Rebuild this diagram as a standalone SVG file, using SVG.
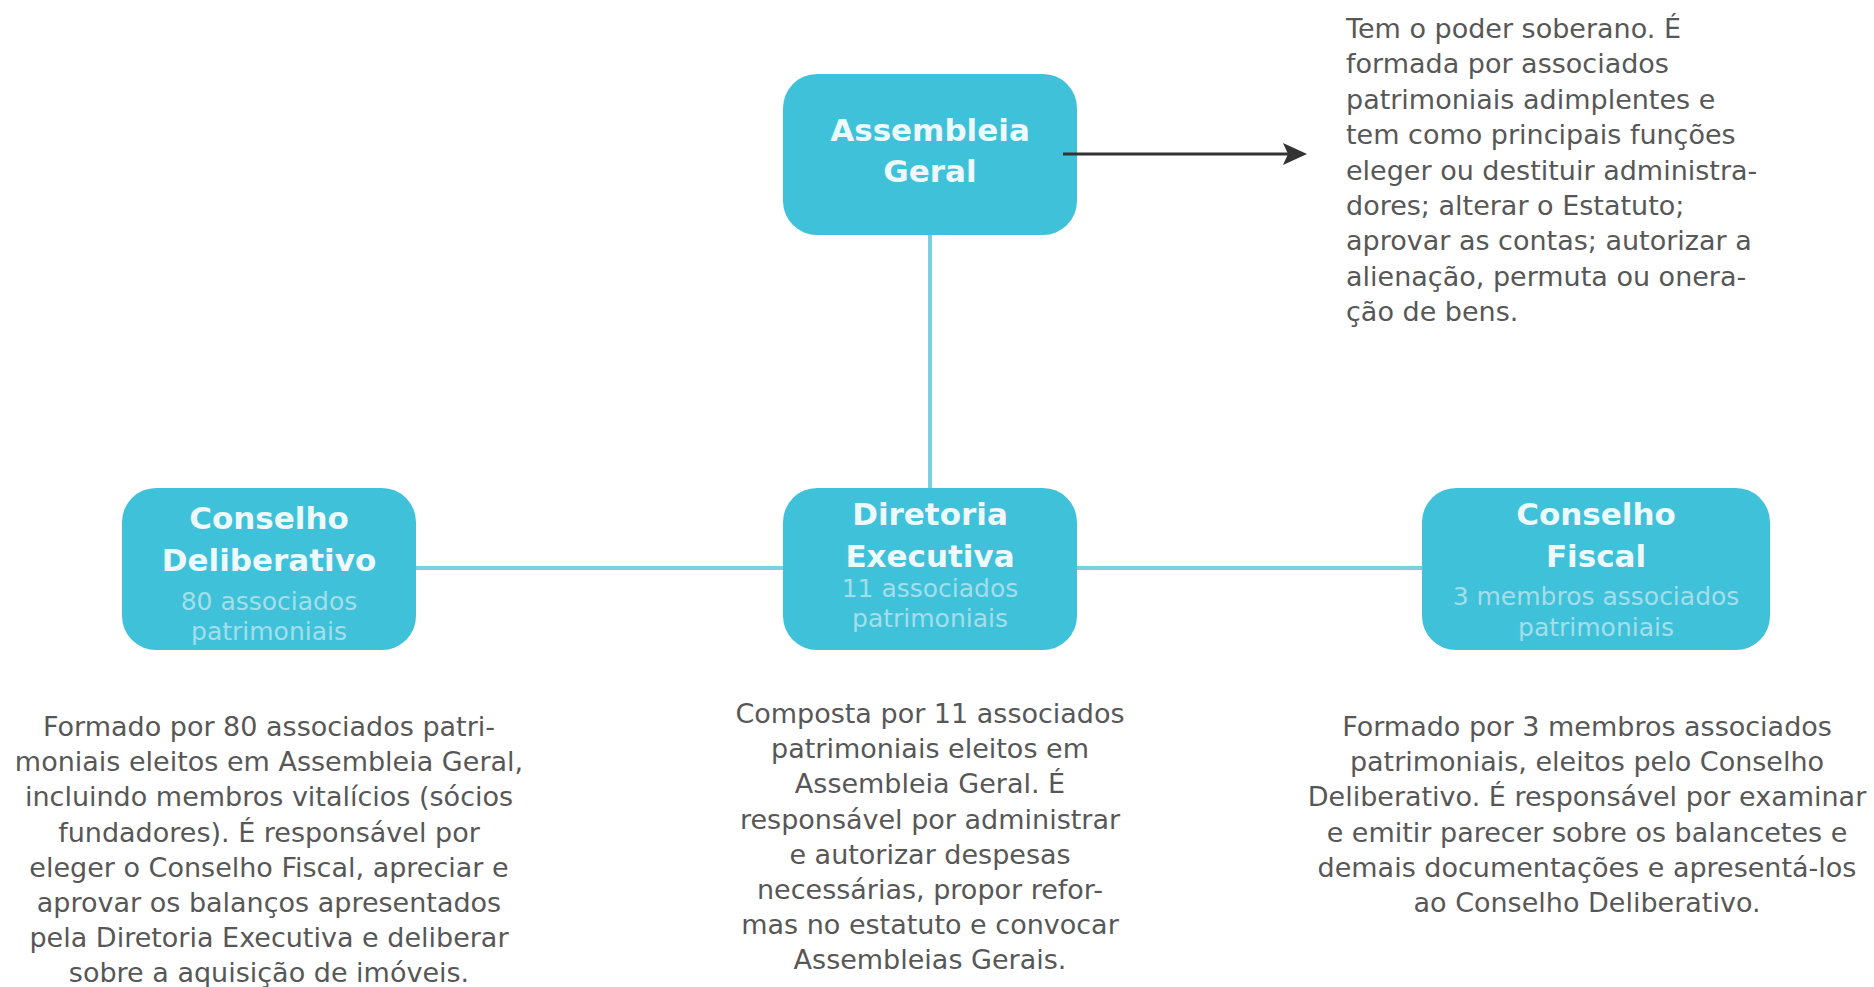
<svg xmlns="http://www.w3.org/2000/svg" width="1874" height="987" viewBox="0 0 1874 987">
<style>
.box{fill:#3fc2d9}
.title{font-family:"DejaVu Sans",sans-serif;font-weight:bold;font-size:31px;fill:#eef9fb;text-anchor:middle}
.sub{font-family:"DejaVu Sans",sans-serif;font-size:25px;fill:#a3deea;text-anchor:middle}
.body{font-family:"DejaVu Sans",sans-serif;font-size:27px;fill:#575757}
.c{text-anchor:middle}
.link{stroke:#7ccfdf;stroke-width:4;fill:none}
.arrow{stroke:#333;stroke-width:3;fill:none}
</style>
<rect width="1874" height="987" fill="#ffffff"/>
<g id="assembleia">
<rect class="box" x="783" y="74" width="294" height="161" rx="34"/>
<text class="title" x="930" y="141">Assembleia</text>
<text class="title" x="930" y="182">Geral</text>
</g>
<g id="conselho-deliberativo">
<rect class="box" x="122" y="488" width="294" height="162" rx="34"/>
<text class="title" x="269" y="529">Conselho</text>
<text class="title" x="269" y="571">Deliberativo</text>
<text class="sub" x="269" y="610">80 associados</text>
<text class="sub" x="269" y="640">patrimoniais</text>
</g>
<g id="diretoria-executiva">
<rect class="box" x="783" y="488" width="294" height="162" rx="34"/>
<text class="title" x="930" y="525">Diretoria</text>
<text class="title" x="930" y="567">Executiva</text>
<text class="sub" x="930" y="597">11 associados</text>
<text class="sub" x="930" y="627">patrimoniais</text>
</g>
<g id="conselho-fiscal">
<rect class="box" x="1422" y="488" width="348" height="162" rx="34"/>
<text class="title" x="1596" y="525">Conselho</text>
<text class="title" x="1596" y="567">Fiscal</text>
<text class="sub" x="1596" y="605">3 membros associados</text>
<text class="sub" x="1596" y="636">patrimoniais</text>
</g>
<g id="connectors">
<line class="link" x1="930" y1="235" x2="930" y2="488"/>
<line class="link" x1="416" y1="568" x2="783" y2="568"/>
<line class="link" x1="1077" y1="568" x2="1422" y2="568"/>
<line class="arrow" x1="1063" y1="154" x2="1290" y2="154"/>
<path d="M1283,143 L1307,154 L1283,165 L1288,154 Z" fill="#333"/>
</g>
<g id="desc-assembleia">
<text class="body" x="1346" y="38">Tem o poder soberano. É</text>
<text class="body" x="1346" y="73.4">formada por associados</text>
<text class="body" x="1346" y="108.8">patrimoniais adimplentes e</text>
<text class="body" x="1346" y="144.2">tem como principais funções</text>
<text class="body" x="1346" y="179.6">eleger ou destituir administra-</text>
<text class="body" x="1346" y="215">dores; alterar o Estatuto;</text>
<text class="body" x="1346" y="250.4">aprovar as contas; autorizar a</text>
<text class="body" x="1346" y="285.8">alienação, permuta ou onera-</text>
<text class="body" x="1346" y="321.2">ção de bens.</text>
</g>
<g id="desc-deliberativo">
<text class="body c" x="269" y="736">Formado por 80 associados patri-</text>
<text class="body c" x="269" y="771.2">moniais eleitos em Assembleia Geral,</text>
<text class="body c" x="269" y="806.4">incluindo membros vitalícios (sócios</text>
<text class="body c" x="269" y="841.6">fundadores). É responsável por</text>
<text class="body c" x="269" y="876.8">eleger o Conselho Fiscal, apreciar e</text>
<text class="body c" x="269" y="912">aprovar os balanços apresentados</text>
<text class="body c" x="269" y="947.2">pela Diretoria Executiva e deliberar</text>
<text class="body c" x="269" y="982.4">sobre a aquisição de imóveis.</text>
</g>
<g id="desc-diretoria">
<text class="body c" x="930" y="723">Composta por 11 associados</text>
<text class="body c" x="930" y="758.2">patrimoniais eleitos em</text>
<text class="body c" x="930" y="793.4">Assembleia Geral. É</text>
<text class="body c" x="930" y="828.6">responsável por administrar</text>
<text class="body c" x="930" y="863.8">e autorizar despesas</text>
<text class="body c" x="930" y="899">necessárias, propor refor-</text>
<text class="body c" x="930" y="934.2">mas no estatuto e convocar</text>
<text class="body c" x="930" y="969.4">Assembleias Gerais.</text>
</g>
<g id="desc-fiscal">
<text class="body c" x="1587" y="736">Formado por 3 membros associados</text>
<text class="body c" x="1587" y="771.2">patrimoniais, eleitos pelo Conselho</text>
<text class="body c" x="1587" y="806.4">Deliberativo. É responsável por examinar</text>
<text class="body c" x="1587" y="841.6">e emitir parecer sobre os balancetes e</text>
<text class="body c" x="1587" y="876.8">demais documentações e apresentá-los</text>
<text class="body c" x="1587" y="912">ao Conselho Deliberativo.</text>
</g>
</svg>
